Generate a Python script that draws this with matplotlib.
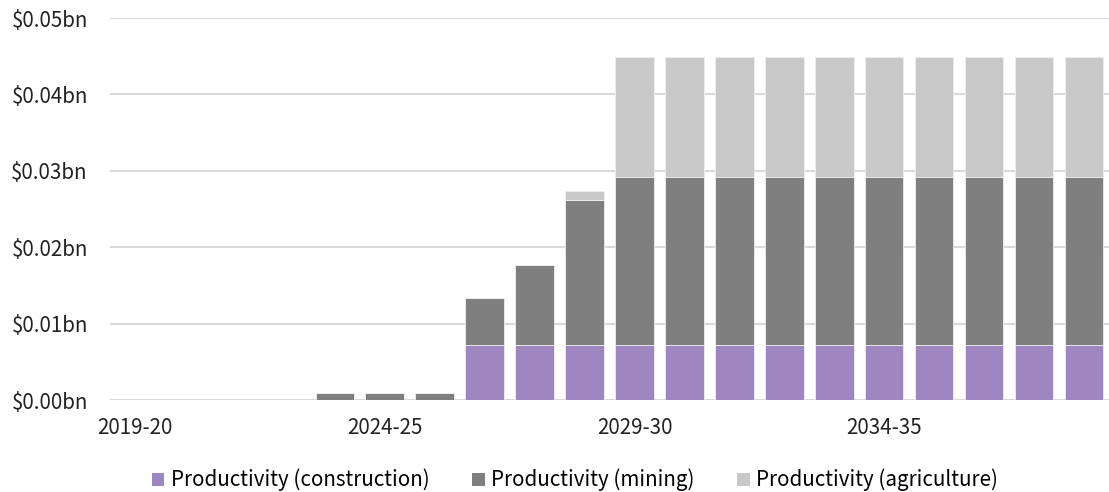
import numpy as np
import matplotlib
matplotlib.use('Agg')
import matplotlib.pyplot as plt
from matplotlib.patches import Patch

plt.rcParams['font.family'] = ['Noto Sans CJK JP', 'DejaVu Sans']

# Dữ liệu
years = [f'{y}-{str(y + 1)[2:]}' for y in range(2019, 2039)]
construction = [0, 0, 0, 0, 0, 0, 0, 0.0072, 0.0072, 0.0072] + [0.0072] * 10
mining = [0, 0, 0, 0, 0.0009, 0.0009, 0.0009, 0.0062, 0.0105, 0.0190] + [0.0220] * 10
agriculture = [0, 0, 0, 0, 0, 0, 0, 0, 0, 0.0011] + [0.0157] * 10
tick_labels = ['2019-20', '2024-25', '2029-30', '2034-35']

colors = ['#9e86c0', '#7f7f7f', '#c8c8c8']
names = ['Productivity (construction)', 'Productivity (mining)', 'Productivity (agriculture)']

fig = plt.figure(figsize=(11.09, 4.92), dpi=100)
ax = fig.add_axes([110 / 1109, 92 / 492, 999 / 1109, 382 / 492])

x = np.arange(len(years))
bottom = np.zeros(len(years))
for vals, c in zip([construction, mining, agriculture], colors):
    vals = np.array(vals)
    ax.bar(x, vals, width=0.77, bottom=bottom, color=c, edgecolor='#eeeeee', linewidth=0.6, zorder=3)
    bottom += vals

ax.set_xlim(-0.5, len(years) - 0.5)
ax.set_ylim(0, 0.05)
ax.set_yticks(np.arange(0, 0.051, 0.01))
ax.set_yticklabels([f'${v:.2f}bn' for v in np.arange(0, 0.051, 0.01)])
ax.set_xticks([years.index(t) for t in tick_labels])
ax.set_xticklabels(tick_labels)
ax.tick_params(axis='both', length=0, labelsize=14.8, colors='#222222')
ax.tick_params(axis='y', pad=16)
ax.tick_params(axis='x', pad=12)
ax.yaxis.grid(True, color='#d9d9d9', linewidth=1.5, zorder=0)
for s in ax.spines.values():
    s.set_visible(False)

handles = [Patch(facecolor=c, edgecolor='none') for c in colors]
fig.legend(handles, names, loc='center', bbox_to_anchor=(575 / 1109, 1 - 480 / 492), ncol=3,
           frameon=False, fontsize=14.8, handlelength=0.6, handleheight=0.6,
           handletextpad=0.3, columnspacing=2.1)

fig.savefig('out.png', dpi=100)
